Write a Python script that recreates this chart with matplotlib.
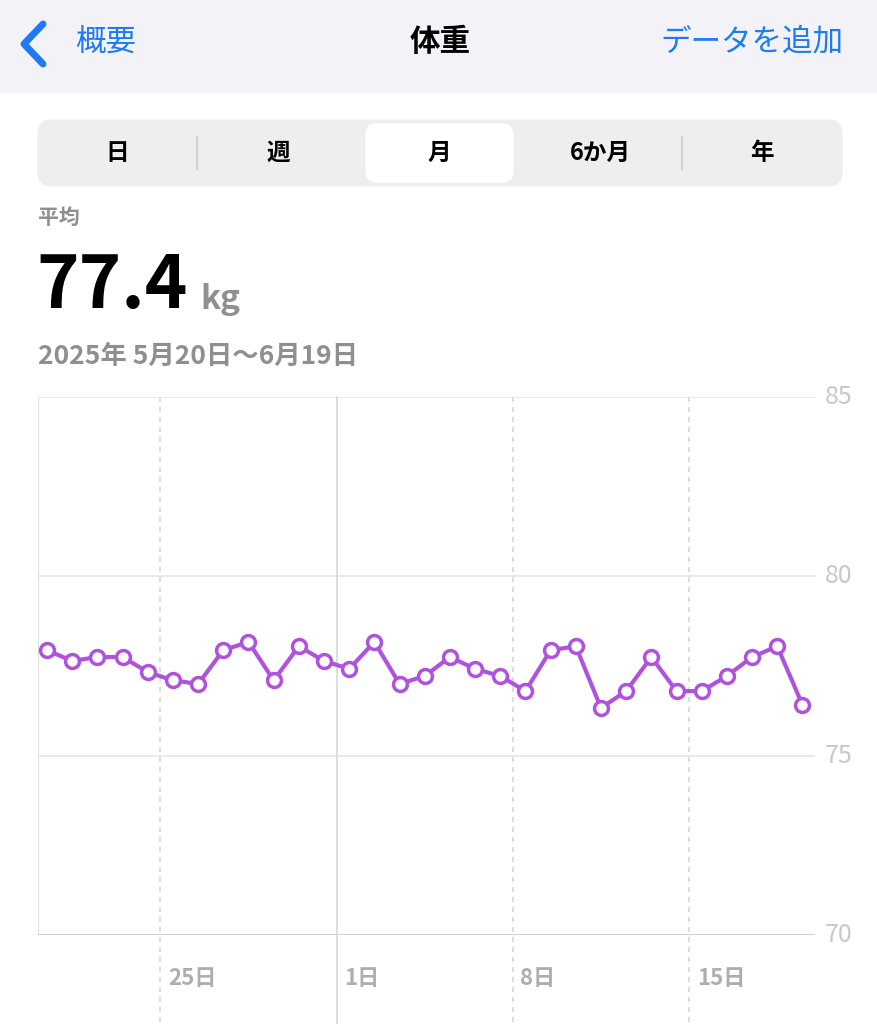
import matplotlib
matplotlib.use("Agg")
import matplotlib.pyplot as plt
from matplotlib.patches import FancyBboxPatch, Rectangle

plt.rcParams['font.family'] = ['Noto Sans CJK JP', 'DejaVu Sans']

# 5月20日〜6月19日の体重 (kg)
weights = [77.94, 77.64, 77.75, 77.75, 77.33, 77.1, 77.0, 77.94, 78.17, 77.1,
           78.05, 77.64, 77.42, 78.17, 77.0, 77.22, 77.75, 77.42, 77.22, 76.8,
           77.94, 78.05, 76.33, 76.8, 77.75, 76.8, 76.8, 77.22, 77.75, 78.05, 76.42]
days = list(range(len(weights)))
tick_days = [4.5, 11.5, 18.5, 25.5]
tick_labels = ["25日", "1日", "8日", "15日"]
y_ticks = [70, 75, 80, 85]
segments = ["日", "週", "月", "6か月", "年"]

W, H = 877, 1024
fig = plt.figure(figsize=(W / 100, H / 100), dpi=100)
bg = fig.add_axes([0, 0, 1, 1])
bg.set_xlim(0, W)
bg.set_ylim(H, 0)
bg.axis("off")

blue = "#1E7CF2"
gray = "#8E8E93"
# ナビゲーションバー
bg.add_patch(Rectangle((0, 0), W, 92, color="#F2F2F7"))
bg.plot([43, 24, 43], [24, 44, 64], color=blue, lw=5, solid_capstyle="round")
bg.text(75, 42, "概要", color=blue, fontsize=22, va="center")
bg.text(440, 42, "体重", color="black", fontsize=22, weight="bold", va="center", ha="center")
bg.text(843, 42, "データを追加", color=blue, fontsize=22, va="center", ha="right")

# セグメント
bg.add_patch(FancyBboxPatch((38, 120), 804, 66, boxstyle="round,pad=0,rounding_size=14",
                            color="#EEEEF0"))
bg.add_patch(FancyBboxPatch((366, 124), 147, 58, boxstyle="round,pad=0,rounding_size=11",
                            color="white"))
centers = [117, 278, 439, 600, 762]
for cx, s in zip(centers, segments):
    bg.text(cx, 153, s, fontsize=17, weight="bold", ha="center", va="center")
for sx in [197, 682]:
    bg.plot([sx, sx], [137, 169], color="#D1D1D6", lw=1.5)

bg.text(38, 217, "平均", color=gray, fontsize=15, weight="bold", va="center")
bg.text(36, 287, "77.4", fontsize=52, weight="bold", va="center")
bg.text(200, 300, "kg", color=gray, fontsize=24, weight="bold", va="center")
bg.text(38, 356, "2025年 5月20日〜6月19日", color=gray, fontsize=19, weight="bold", va="center")

# グラフ
ax = fig.add_axes([38 / W, 1 - 935 / H, (815 - 38) / W, (935 - 397) / H])
ax.set_xlim(-0.36, 30.5)
ax.set_ylim(70, 85)
for sp in ax.spines.values():
    sp.set_visible(False)
ax.axvline(-0.36, color="#D8D8DC", lw=1.2)
for y in y_ticks:
    ax.axhline(y, color="#C7C7CC" if y == 70 else "#E5E5EA", lw=1.2)
for d in tick_days:
    style = "-" if d == 11.5 else (0, (3, 3))
    ax.plot([d, d], [85, 67.5], color="#D8D8DC", lw=1.2, ls=style, clip_on=False)
ax.set_xticks([])
ax.set_yticks([])
for d, lab in zip(tick_days, tick_labels):
    ax.text(d + 0.3, 68.8, lab, color="#AEAEB2", fontsize=16, va="center", weight="bold")
for y in y_ticks:
    ax.text(30.9, y, str(y), color="#C7C7CC", fontsize=18, va="center", clip_on=False)

ax.plot(days, weights, color="#AF52DE", lw=3, marker="o", markersize=10,
        markerfacecolor="white", markeredgecolor="#AF52DE", markeredgewidth=2.5, clip_on=False)

fig.savefig("out.png", dpi=100)
